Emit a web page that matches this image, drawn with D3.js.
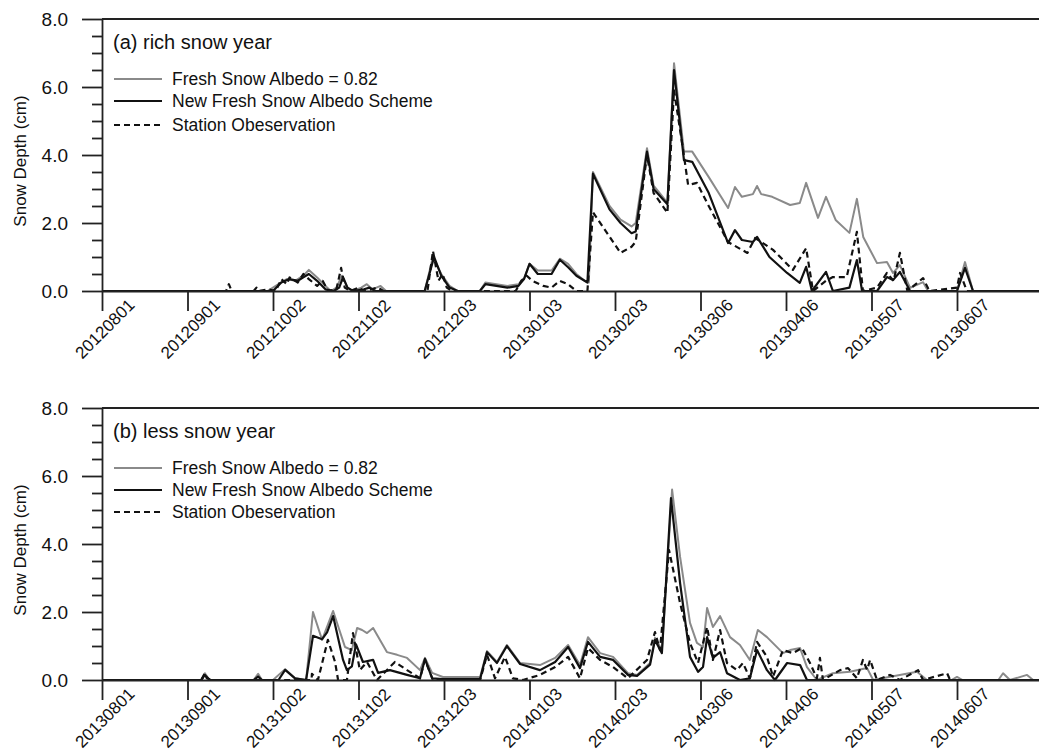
<!DOCTYPE html>
<html><head><meta charset="utf-8">
<script src="https://cdn.jsdelivr.net/npm/d3@7"></script>
<style>
body{margin:0;background:#fff}
svg{display:block}
text{font-family:"Liberation Sans",Arial,Helvetica,sans-serif;fill:#111}
</style>
</head><body>
<svg id="chart" width="1039" height="754"></svg>
<script>
// ---------- DATA ----------
const seriesNames = ["Fresh Snow Albedo = 0.82", "New Fresh Snow Albedo Scheme", "Station Obeservation"];
const panelTitles = ["(a) rich snow year", "(b) less snow year"];
const yMajorTicks = [0, 2, 4, 6, 8];
const tickLabelsA = ["20120801","20120901","20121002","20121102","20121203","20130103","20130203","20130306","20130406","20130507","20130607"];
const tickLabelsB = ["20130801","20130901","20131002","20131102","20131203","20140103","20140203","20140306","20140406","20140507","20140607"];
const startA = "20120801";
const startB = "20130801";

// [days since 1 Aug, snow depth cm]
const albedo082A = [[0,0],[60,0],[64,0.2],[67,0.35],[70,0.3],[73,0.45],[75,0.62],[78,0.4],[81,0.15],[83,0],[85,0.1],[87,0.45],[89,0.1],[91,0],[94,0.1],[96,0.2],[98,0.05],[101,0.15],[103,0],[117,0],[120,1.0],[123,0.5],[126,0.15],[129,0],[137,0],[139,0.25],[143,0.2],[147,0.15],[151,0.2],[153,0.35],[155,0.8],[158,0.6],[163,0.6],[166,0.95],[169,0.8],[172,0.5],[175,0.3],[176.5,0.25],[178,3.5],[184,2.5],[188,2.1],[192,1.9],[193.5,2.0],[197.6,4.2],[200,3.1],[205,2.6],[207.4,6.7],[211,4.1],[214,4.1],[220,3.35],[227,2.44],[229.5,3.06],[232,2.77],[236,2.85],[237.5,3.09],[239,2.85],[243,2.77],[249.5,2.53],[253,2.59],[255.3,3.18],[259.6,2.15],[262.5,2.77],[266,2.09],[271,1.71],[273.7,2.71],[276,1.59],[281,0.82],[284.6,0.85],[286.8,0.53],[289.3,0.76],[293,0.09],[297.7,0.26],[299.5,0],[310,0],[312.9,0.85],[315.8,0],[365,0]];
const newSchemeA = [[0,0],[62,0],[65,0.25],[68,0.35],[71,0.3],[73,0.4],[75,0.5],[78,0.3],[81,0.05],[84,0],[86,0.1],[87.4,0.41],[89,0.1],[91,0],[95,0.05],[97,0.1],[99,0],[117,0],[120.4,1.0],[123,0.45],[126,0.1],[129,0],[137,0],[139,0.2],[143,0.15],[147,0.1],[151,0.15],[153,0.35],[155,0.8],[158,0.5],[163,0.5],[166,0.92],[169,0.7],[172,0.45],[176,0.25],[178,3.45],[184,2.4],[188,2.0],[192,1.7],[193.5,1.75],[197.6,4.1],[200,3.0],[205,2.55],[207.4,6.5],[211,3.85],[214,3.8],[220,2.88],[227,1.41],[229.5,1.79],[232,1.5],[236,1.44],[237.5,1.59],[242,1.0],[248.4,0.53],[253,0.24],[255.3,0.71],[257.4,0],[262.5,0.56],[265,0],[271,0.1],[273.7,0.91],[275.6,0],[281,0],[284.6,0.41],[286.8,0.32],[289.3,0.56],[293,0],[310,0],[312.9,0.68],[315.8,0],[365,0]];
const stationA = [[0,0],[45,0],[46,0.2],[47,0],[55,0],[56,0.1],[57,0],[60,0.05],[63,0],[65,0.35],[67,0.2],[68,0.4],[71,0.25],[73,0.5],[75,0.35],[78,0.15],[80,0.3],[82,0],[85,0.05],[86.7,0.68],[88,0.1],[90,0],[93,0.1],[95,0],[100,0.1],[102,0],[118,0],[120,1.18],[122,0.3],[123.5,0.5],[125,0.1],[127,0],[150,0],[152,0.3],[154,0.45],[156,0.3],[160,0.15],[163,0.1],[166,0.3],[169,0.2],[172,0],[176,0],[178,2.32],[184,1.6],[188,1.12],[192,1.3],[193.5,1.45],[197.6,4.0],[200,2.88],[205,2.3],[207.4,5.9],[210.7,4.15],[212.5,3.12],[215.7,3.18],[219.4,2.59],[227,1.44],[234,1.12],[236.8,1.56],[243.3,1.21],[250.5,0.62],[255.3,1.26],[257.8,0],[262.5,0.3],[265,0.41],[270,0.41],[273.7,1.74],[275.9,0],[281,0.1],[284.6,0.53],[287,0.3],[289.3,1.12],[292,0],[297.7,0.38],[300,0],[310,0.1],[311.1,0.53],[313.6,0],[365,0]];

const albedo082B = [[0,0],[36,0],[37.3,0.2],[39,0],[55,0],[56.6,0.18],[58,0],[62,0],[66.4,0.32],[70,0.05],[74,0],[76.5,2.0],[79.8,1.18],[83.8,2.03],[88.1,0.97],[90.6,0.88],[92.5,1.53],[94.3,1.47],[96.1,1.38],[98.3,1.53],[103.3,0.82],[107,0.74],[110.6,0.65],[115.3,0.29],[117.1,0.65],[119.7,0.21],[123.6,0.09],[137.1,0.09],[139.6,0.85],[143.2,0.53],[146.8,1.03],[151.6,0.5],[158.8,0.44],[164.3,0.65],[169,1.03],[173.3,0.44],[176.2,1.26],[180.6,0.79],[185.3,0.68],[190.7,0.2],[194,0.15],[198.7,0.5],[200.5,1.24],[203,0.88],[206.7,5.6],[209.6,3.62],[213.2,1.68],[215.7,1.09],[217.9,0.97],[219.4,2.12],[221.5,1.56],[224.1,1.88],[227.7,1.26],[231.3,1.03],[234.9,0.59],[237.8,1.47],[241.1,1.26],[246.9,0.79],[249.5,0.88],[253.1,0.94],[255.6,0.38],[259.2,0],[265,0.2],[271.2,0.24],[277.4,0.35],[279.6,0],[295.5,0.24],[299.1,0],[308,0],[310,0.09],[312,0],[325,0],[326.7,0.2],[329.2,0],[335.4,0.15],[337.6,0],[365,0]];
const newSchemeB = [[0,0],[36,0],[37.3,0.15],[39,0],[55,0],[56.6,0.1],[58,0],[64,0],[66.4,0.3],[70,0.05],[74,0],[76.5,1.3],[79.8,1.2],[81.6,1.4],[83.8,1.88],[87.4,0.59],[88.8,0.29],[90.6,0.4],[92.1,1.05],[94.6,0.53],[98.3,0.59],[100.1,0.21],[104.4,0.29],[110.6,0.15],[115.3,0.05],[117.1,0.62],[119.7,0.05],[123.6,0.03],[137.1,0.03],[139.6,0.82],[143.2,0.5],[146.8,1.0],[151.6,0.47],[158.8,0.29],[164.3,0.53],[169,0.97],[173.3,0.35],[176.2,1.12],[180.6,0.68],[185.3,0.59],[190.7,0.15],[194,0.12],[198.7,0.45],[200.5,1.18],[203,0.79],[206.3,5.35],[209.6,2.85],[213.2,0.68],[216.1,0.24],[217.9,0.38],[219.4,1.26],[221.5,0.65],[224.1,0.82],[226.6,0.2],[231.3,0],[234.9,0.05],[237.5,0.88],[241.1,0.29],[244,0],[248.4,0.5],[253.1,0.44],[255.6,0],[365,0]];
const stationB = [[0,0],[36,0],[37.3,0.2],[38,0.05],[40,0],[76,0],[76.1,0.18],[78.3,0],[81.9,1.18],[84.5,0.53],[85.6,0],[88.8,0],[91,1.38],[93.5,0.29],[96.1,0.53],[99.7,0],[106.2,0.53],[110.6,0.29],[115.3,0.05],[117.1,0.59],[120,0],[137.1,0],[139.6,0.74],[142.5,0.05],[146.1,0.68],[149,0.05],[152.6,0],[158.8,0.15],[164.3,0.38],[169,0.68],[173.3,0.05],[176.2,0.94],[180.6,0.59],[185.3,0.38],[190.7,0.05],[197.6,0.59],[200.5,1.41],[202.3,0.88],[205.6,3.82],[209.6,2.26],[213.2,1.09],[216.1,0.5],[219.4,1.56],[221.5,0.59],[224.1,1.47],[226.6,0.5],[230.2,0.29],[232.4,0.5],[234.9,0.05],[237.5,1.12],[241.1,0.68],[243.3,0.1],[246.9,0.88],[250.5,0.79],[253.8,0.94],[256.7,0.5],[259.2,0.05],[260.3,0.65],[261.4,0],[267.6,0.29],[270.5,0.35],[273.7,0.05],[275.9,0.59],[277.4,0.3],[278.5,0.59],[281,0],[285.7,0.15],[289.3,0],[295.9,0.29],[297.7,0],[306.4,0.2],[307.5,0],[365,0]];

// ---------- DRAW ----------
const svg = d3.select("#chart");
const parse = d3.utcParse("%Y%m%d");
const DAY = 86400000;
const left = 102, pxPerDay = 85.5 / 31, spanDays = 365;
const right = left + spanDays * pxPerDay;
const axisColor = "#222";

const styles = [
  {color: "#8a8a8a", width: 2, dash: null},
  {color: "#111", width: 2.2, dash: null},
  {color: "#111", width: 2.2, dash: "6,4"}
];

const panels = [
  {top: 19, bottom: 291, title: panelTitles[0], ticks: tickLabelsA, start: startA, series: [albedo082A, newSchemeA, stationA], legendRows: [60, 82, 106]},
  {top: 408, bottom: 680, title: panelTitles[1], ticks: tickLabelsB, start: startB, series: [albedo082B, newSchemeB, stationB], legendRows: [60, 82, 104]}
];

panels.forEach(p => {
  const t0 = parse(p.start);
  const x = d3.scaleUtc().domain([t0, new Date(+t0 + spanDays * DAY)]).range([left, right]);
  const y = d3.scaleLinear().domain([0, 8]).range([p.bottom, p.top]);
  const g = svg.append("g");

  // lines
  const line = d3.line().x(d => x(new Date(+t0 + d[0] * DAY))).y(d => y(d[1]));
  p.series.forEach((s, i) => {
    const st = styles[i];
    g.append("path").datum(s).attr("d", line)
      .attr("fill", "none").attr("stroke", st.color).attr("stroke-width", st.width)
      .attr("stroke-linejoin", "round")
      .attr("stroke-dasharray", st.dash);
  });

  // y axis major
  const yAx = g.append("g").attr("transform", `translate(${left},0)`)
    .call(d3.axisLeft(y).tickValues(yMajorTicks).tickSize(20).tickSizeOuter(0).tickPadding(14).tickFormat(d3.format(".1f")));
  yAx.selectAll("text").attr("font-size", 19).style("fill", "#111");
  // y minor ticks
  const minors = d3.range(0.5, 8, 0.5).filter(v => v % 2 !== 0);
  g.append("g").attr("transform", `translate(${left},0)`)
    .call(d3.axisLeft(y).tickValues(minors).tickSize(10).tickFormat(""))
    .call(a => a.select(".domain").remove());

  // x axis
  const tickDates = p.ticks.map(parse);
  g.append("g").attr("transform", `translate(0,${p.bottom})`)
    .call(d3.axisBottom(x).tickValues(tickDates).tickSize(20).tickSizeOuter(0).tickFormat(""));
  tickDates.forEach((d, i) => {
    const cx = x(d) + 3, cy = p.bottom + 38;
    g.append("text").attr("transform", `translate(${cx},${cy}) rotate(-45)`)
      .attr("text-anchor", "middle").attr("dominant-baseline", "central")
      .attr("font-size", 17).text(p.ticks[i]);
  });

  // top border
  g.append("line").attr("x1", left).attr("x2", right).attr("y1", p.top).attr("y2", p.top);

  g.selectAll("path.domain, .tick line, line").attr("stroke", axisColor).attr("stroke-width", 1.8);

  // y title
  g.append("text").attr("transform", `translate(26,${(p.top + p.bottom) / 2 + 6}) rotate(-90)`)
    .attr("text-anchor", "middle").attr("font-size", 17).text("Snow Depth (cm)");

  // panel title
  g.append("text").attr("x", 113).attr("y", p.top + 23).attr("dominant-baseline", "central")
    .attr("font-size", 20).text(p.title);

  // legend
  seriesNames.forEach((name, i) => {
    const ly = p.top + p.legendRows[i];
    const st = styles[i];
    g.append("line").attr("x1", 114).attr("x2", 162).attr("y1", ly).attr("y2", ly)
      .attr("stroke", st.color).attr("stroke-width", st.width).attr("stroke-dasharray", st.dash);
    g.append("text").attr("x", 172).attr("y", ly).attr("dominant-baseline", "central")
      .attr("font-size", 17.5).text(name);
  });
});
</script>
</body></html>
